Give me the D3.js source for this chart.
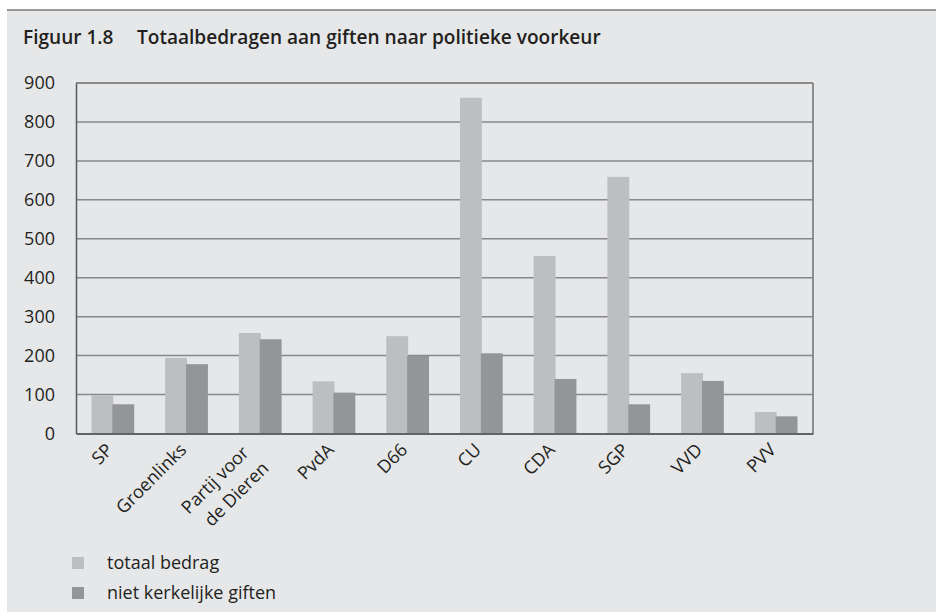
<!DOCTYPE html>
<html>
<head>
<meta charset="utf-8">
<script src="https://cdn.jsdelivr.net/npm/d3@7"></script>
<style>
  body { margin: 0; background: #fff; }
  svg { display: block; font-family: "Open Sans", sans-serif; }
</style>
</head>
<body>
<div id="chart"></div>
<script>
const WIDTH = 936;
const HEIGHT = 612;

// data
const parties = ["SP", "Groenlinks", "Partij voor|de Dieren", "PvdA", "D66", "CU", "CDA", "SGP", "VVD", "PVV"];
const totaalBedrag = [98, 194, 258, 134, 250, 862, 456, 659, 155, 55];
const nietKerkelijk = [75, 178, 242, 105, 199, 206, 140, 75, 135, 44];
const seriesNames = ["totaal bedrag", "niet kerkelijke giften"];
const yTicks = [0, 100, 200, 300, 400, 500, 600, 700, 800, 900];

const colors = ["#bdbec1", "#949598"];
const TEXT = "#231f20";

const plot = { left: 76, right: 813, top: 83, bottom: 433.5 };

const svg = d3.select("#chart").append("svg")
    .attr("width", WIDTH)
    .attr("height", HEIGHT);

// grey panel with dark rule on top
svg.append("rect")
    .attr("x", 7).attr("y", 10)
    .attr("width", WIDTH - 7).attr("height", HEIGHT - 10)
    .attr("fill", "#e6e7e9");
svg.append("line")
    .attr("x1", 7).attr("x2", WIDTH)
    .attr("y1", 10).attr("y2", 10)
    .attr("stroke", "#3a3a3a").attr("stroke-width", 1.2);

// title, two parts sized to the widths in the figure
function fitText(sel, target) {
    const w = sel.node().getComputedTextLength();
    const fs = parseFloat(sel.attr("font-size"));
    sel.attr("font-size", fs * target / w);
}
const t1 = svg.append("text")
    .attr("x", 23).attr("y", 44)
    .attr("font-size", 17.5).attr("font-weight", 600)
    .attr("fill", TEXT)
    .text("Figuur 1.8");
const t2 = svg.append("text")
    .attr("x", 137).attr("y", 44)
    .attr("font-size", 17.5).attr("font-weight", 600)
    .attr("fill", TEXT)
    .text("Totaalbedragen aan giften naar politieke voorkeur");
fitText(t2, 464);
t1.attr("font-size", t2.attr("font-size"));

const y = d3.scaleLinear().domain([0, 900]).range([plot.bottom, plot.top]);

const x0 = d3.scaleBand()
    .domain(parties)
    .range([plot.left, plot.right])
    .paddingInner(0.42)
    .paddingOuter(0.21);

const x1 = d3.scaleBand()
    .domain([0, 1])
    .range([0, x0.bandwidth()]);

// gridlines
svg.append("g")
    .selectAll("line")
    .data(yTicks.filter(d => d > 0 && d < 900))
    .join("line")
    .attr("x1", plot.left).attr("x2", plot.right)
    .attr("y1", d => y(d)).attr("y2", d => y(d))
    .attr("stroke", "#87888a").attr("stroke-width", 1.5);

// bars
const groups = svg.append("g")
    .selectAll("g")
    .data(parties.map((p, i) => ({ party: p, values: [totaalBedrag[i], nietKerkelijk[i]] })))
    .join("g")
    .attr("transform", d => `translate(${x0(d.party)},0)`);

groups.selectAll("rect")
    .data(d => d.values.map((v, k) => ({ k, v })))
    .join("rect")
    .attr("x", d => x1(d.k) + (d.k === 1 ? -0.5 : 0))
    .attr("width", x1.bandwidth() + 0.5)
    .attr("y", d => y(d.v))
    .attr("height", d => y(0) - y(d.v))
    .attr("fill", d => colors[d.k]);

// frame
svg.append("line")
    .attr("x1", plot.left).attr("x2", plot.right)
    .attr("y1", plot.top).attr("y2", plot.top)
    .attr("stroke", "#2f2f2f").attr("stroke-width", 1.2);
svg.append("line")
    .attr("x1", plot.right).attr("x2", plot.right)
    .attr("y1", plot.top).attr("y2", plot.bottom)
    .attr("stroke", "#6f7072").attr("stroke-width", 1.5);

// y axis
const yAxis = svg.append("g")
    .attr("transform", `translate(${plot.left},0)`)
    .call(d3.axisLeft(y).tickValues(yTicks).tickSize(0).tickPadding(21));
yAxis.select(".domain").attr("stroke", "#58595b").attr("stroke-width", 1.5);
yAxis.selectAll("text")
    .attr("font-family", "'Open Sans', sans-serif")
    .attr("font-size", 18)
    .attr("fill", TEXT);

// x axis
const xAxis = svg.append("g")
    .attr("transform", `translate(0,${plot.bottom})`)
    .call(d3.axisBottom(x0).tickSize(0).tickFormat(""));
xAxis.select(".domain").attr("stroke", "#626365").attr("stroke-width", 1.8);

const labels = svg.append("g")
    .selectAll("text")
    .data(parties)
    .join("text")
    .attr("transform", d => `translate(${x0(d) + x0.bandwidth() / 2 + 1},${plot.bottom + 17.5}) rotate(-45)`)
    .attr("text-anchor", "end")
    .attr("font-size", 18)
    .attr("fill", TEXT);
labels.each(function (d) {
    const lines = d.split("|");
    const t = d3.select(this);
    if (lines.length === 1) {
        t.append("tspan").attr("x", 0).attr("y", 0).text(lines[0]);
    } else {
        t.append("tspan").attr("x", -10).attr("y", -6).text(lines[0]);
        t.append("tspan").attr("x", -7).attr("y", 19).text(lines[1]);
    }
});

// legend
const legend = svg.append("g")
    .selectAll("g")
    .data(seriesNames)
    .join("g")
    .attr("transform", (d, i) => `translate(72,${557 + i * 30})`);
legend.append("rect")
    .attr("width", 12).attr("height", 12)
    .attr("fill", (d, i) => colors[i]);
legend.append("text")
    .attr("x", 35).attr("y", 12)
    .attr("font-size", 18)
    .attr("fill", TEXT)
    .text(d => d);
</script>
</body>
</html>
